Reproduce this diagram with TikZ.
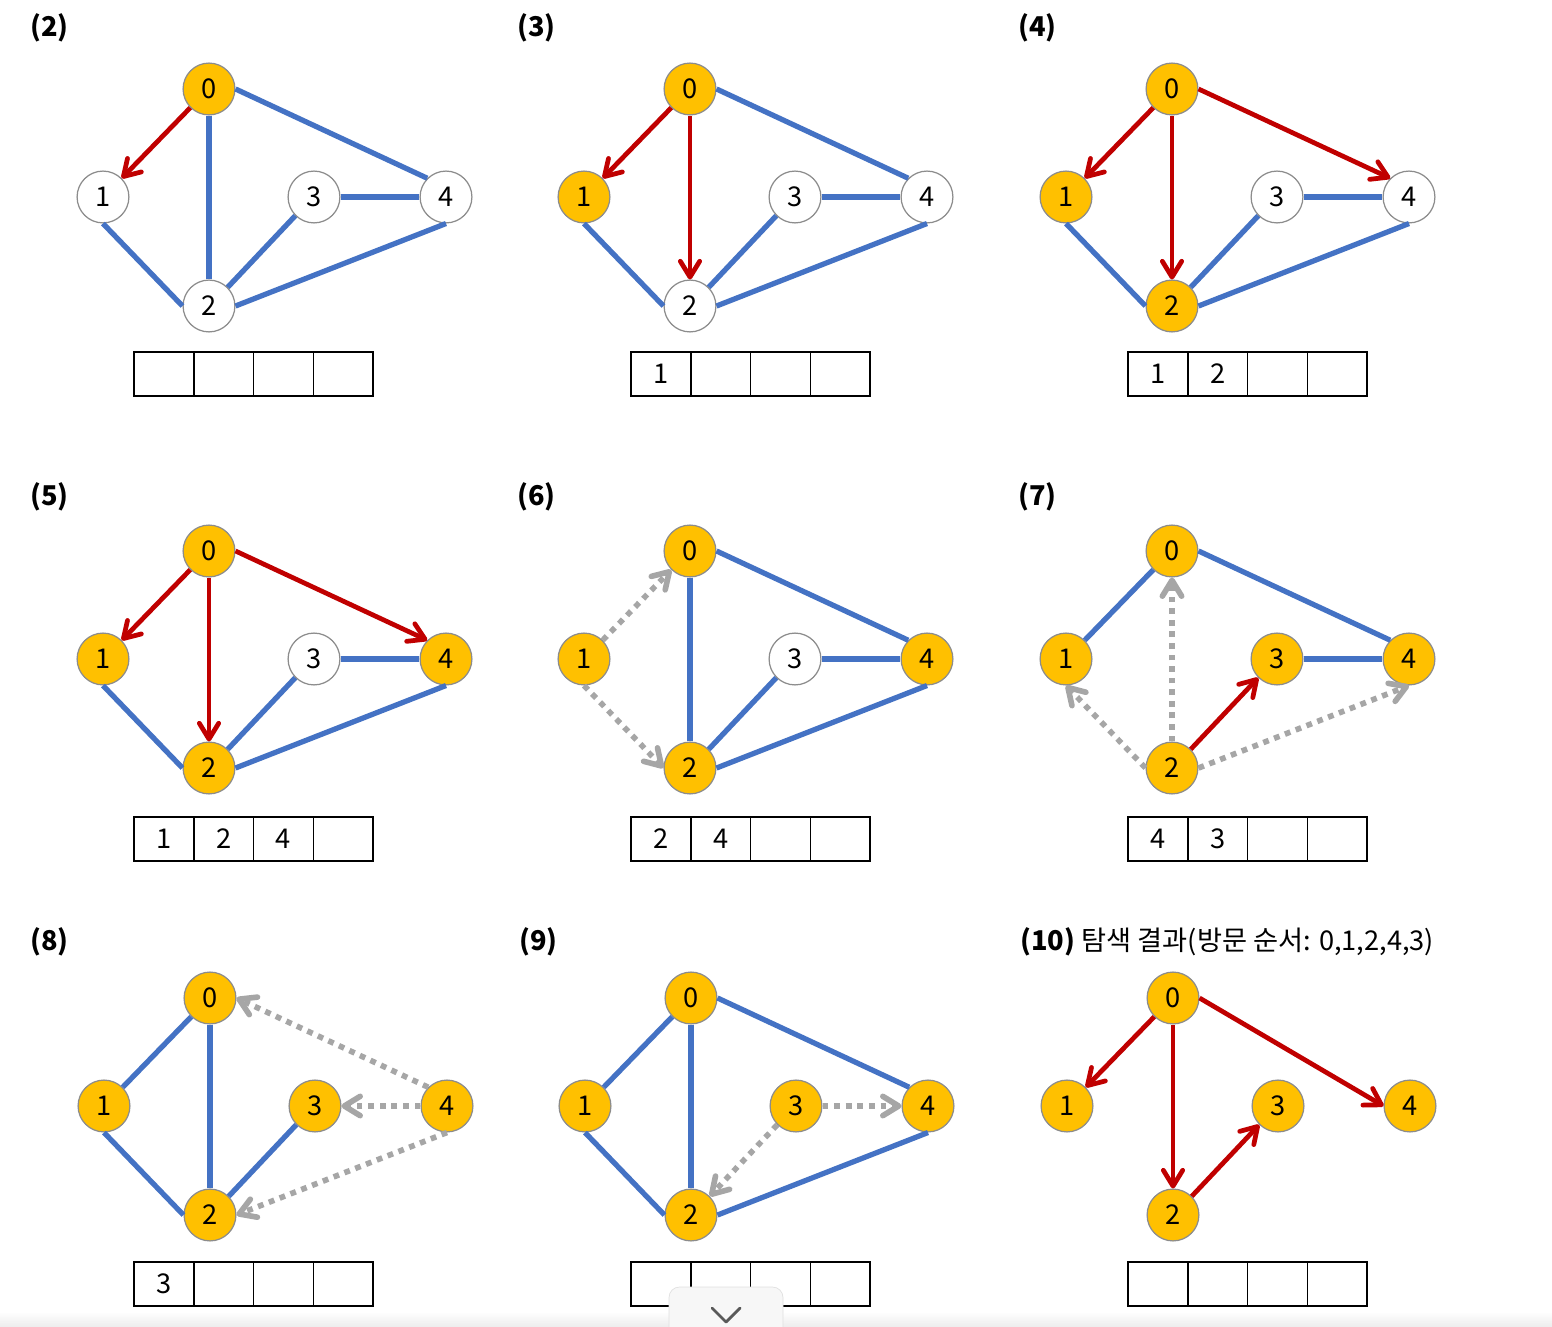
\documentclass[tikz,border=0pt]{standalone}
\usepackage{fontspec}
\setmainfont{Noto Sans CJK KR}
\usetikzlibrary{arrows.meta,positioning}

\definecolor{gold}{HTML}{FFC000}
\definecolor{linkblue}{HTML}{4472C4}
\definecolor{treered}{HTML}{C00000}
\definecolor{probegray}{HTML}{A6A6A6}

\tikzset{
  vtx/.style={circle,draw=black!45,line width=0.7pt,minimum size=29.5pt,inner sep=0pt},
  link/.style={draw=linkblue,line width=3pt},
  tree/.style={draw=treered,line width=2.7pt,-{Straight Barb[length=9pt,width=11pt,round]}},
  probe/.style={draw=probegray,line width=3.2pt,dash pattern=on 3.3pt off 3.3pt,
    -{Straight Barb[length=9pt,width=11pt,round]}},
  cell/.style={draw,line width=0.9pt,minimum width=34pt,minimum height=25pt,inner sep=0pt,outer sep=0pt},
  tag/.style={anchor=west,inner sep=0pt,font=\fontsize{15.5}{18}\selectfont\bfseries}
}

% one step: name, where node 0 sits, how many nodes are visited (order 0,1,2,4,3)
\newcommand{\drawpanel}[3]{%
  \begin{scope}[shift={#2}]
    \foreach \n/\x/\y/\r in {0/0/0/0,1/-106/108/1,2/0/217/2,3/105/108/4,4/237/108/3}{
      \ifnum\r<#3 \def\vfill{gold}\else\def\vfill{white}\fi
      \node[vtx,fill=\vfill] (#1-\n) at (\x,\y) {\n};
    }
  \end{scope}}

\begin{document}
\begin{tikzpicture}[x=0.02cm,y=-0.02cm,font=\fontsize{15.5}{18}\selectfont]
  \fill[white] (0,0) rectangle (1552,1327);
  \useasboundingbox (0,0) rectangle (1552,1327);

  % step labels
  \node[tag] (t2) at (30,28) {(2)};
  \node[tag] (t3) at (517,28) {(3)};
  \node[tag] (t4) at (1018,28) {(4)};
  \node[tag] (t5) at (30,497) {(5)};
  \node[tag] (t6) at (517,497) {(6)};
  \node[tag] (t7) at (1018,497) {(7)};
  \node[tag] (t8) at (30,942) {(8)};
  \node[tag] (t9) at (519,942) {(9)};
  \node[tag] (t10) at (1020,942) {(10) {\mdseries 탐색 결과(방문 순서: 0,1,2,4,3)}};

  % graphs
  \drawpanel{a}{(209,89)}{1}
  \drawpanel{b}{(690,89)}{2}
  \drawpanel{c}{(1172,89)}{3}
  \drawpanel{d}{(209,551)}{4}
  \drawpanel{e}{(690,551)}{4}
  \drawpanel{f}{(1172,551)}{5}
  \drawpanel{g}{(210,998)}{5}
  \drawpanel{h}{(691,998)}{5}
  \drawpanel{k}{(1173,998)}{5}

  % (2)
  \foreach \m/\ma/\n/\na in {0/south/2/north,0/east/4/north west,1/south/2/west,2/north east/3/south west,2/east/4/south,3/east/4/west}
    \draw[link] (a-\m.\ma) -- (a-\n.\na);
  \draw[tree] (a-0.south west) -- (a-1.north east);
  % (3)
  \foreach \m/\ma/\n/\na in {0/east/4/north west,1/south/2/west,2/north east/3/south west,2/east/4/south,3/east/4/west}
    \draw[link] (b-\m.\ma) -- (b-\n.\na);
  \foreach \m/\ma/\n/\na in {0/south west/1/north east,0/south/2/north}
    \draw[tree] (b-\m.\ma) -- (b-\n.\na);
  % (4) and (5)
  \foreach \p in {c,d}{
    \foreach \m/\ma/\n/\na in {1/south/2/west,2/north east/3/south west,2/east/4/south,3/east/4/west}
      \draw[link] (\p-\m.\ma) -- (\p-\n.\na);
    \foreach \m/\ma/\n/\na in {0/south west/1/north east,0/south/2/north,0/east/4/north west}
      \draw[tree] (\p-\m.\ma) -- (\p-\n.\na);
  }
  % (6)
  \foreach \m/\ma/\n/\na in {0/south/2/north,0/east/4/north west,2/north east/3/south west,2/east/4/south,3/east/4/west}
    \draw[link] (e-\m.\ma) -- (e-\n.\na);
  \foreach \m/\ma/\n/\na in {1/north east/0/south west,1/south/2/west}
    \draw[probe] (e-\m.\ma) -- (e-\n.\na);
  % (7)
  \foreach \m/\ma/\n/\na in {0/south west/1/north east,0/east/4/north west,3/east/4/west}
    \draw[link] (f-\m.\ma) -- (f-\n.\na);
  \foreach \m/\ma/\n/\na in {2/west/1/south,2/north/0/south,2/east/4/south}
    \draw[probe] (f-\m.\ma) -- (f-\n.\na);
  \draw[tree] (f-2.north east) -- (f-3.south west);
  % (8)
  \foreach \m/\ma/\n/\na in {0/south west/1/north east,0/south/2/north,1/south/2/west,2/north east/3/south west}
    \draw[link] (g-\m.\ma) -- (g-\n.\na);
  \foreach \m/\ma/\n/\na in {4/north west/0/east,4/west/3/east,4/south/2/east}
    \draw[probe] (g-\m.\ma) -- (g-\n.\na);
  % (9)
  \foreach \m/\ma/\n/\na in {0/south west/1/north east,0/south/2/north,0/east/4/north west,1/south/2/west,2/east/4/south}
    \draw[link] (h-\m.\ma) -- (h-\n.\na);
  \foreach \m/\ma/\n/\na in {3/east/4/west,3/south west/2/north east}
    \draw[probe] (h-\m.\ma) -- (h-\n.\na);
  % (10) spanning tree
  \foreach \m/\ma/\n/\na in {0/south west/1/north east,0/south/2/north,0/east/4/west,2/north east/3/south west}
    \draw[tree] (k-\m.\ma) -- (k-\n.\na);

  % queues
  \foreach \p/\x/\y/\qa/\qb/\qc in {a/134/352/{}/{}/{},b/631/352/1/{}/{},c/1128/352/1/2/{},
      d/134/817/1/2/4,e/631/817/2/4/{},f/1128/817/4/3/{},
      g/134/1262/3/{}/{},h/631/1262/{}/{}/{},k/1128/1262/{}/{}/{}}{
    \node[cell] (q\p-0) at ({\x+30},{\y+22}) {\qa};
    \node[cell,right=0pt of q\p-0] (q\p-1) {\qb};
    \node[cell,right=0pt of q\p-1] (q\p-2) {\qc};
    \node[cell,right=0pt of q\p-2] (q\p-3) {};
  }

  % page edge and scroll button of the screenshot
  \shade[top color=white,bottom color=black!9,opacity=0.8] (0,1312) rectangle (1552,1327);
  \filldraw[fill=black!3,draw=black!12,rounded corners=6pt] (669,1340) -- (669,1287) -- (783,1287) -- (783,1340);
  \draw[black!65,line width=1.6pt,line cap=round,line join=round] (712,1308) -- (726,1322) -- (740,1308);
\end{tikzpicture}
\end{document}
